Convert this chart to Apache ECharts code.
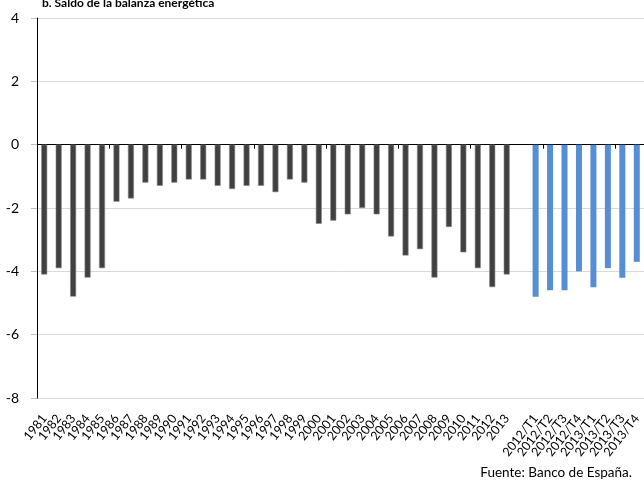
<!DOCTYPE html>
<html>
<head>
<meta charset="utf-8">
<script src="https://cdn.jsdelivr.net/npm/echarts@6/dist/echarts.min.js"></script>
<style>
  html, body { margin: 0; padding: 0; background: #fff; }
  #chart { width: 644px; height: 483px; }
</style>
</head>
<body>
<div id="chart"></div>
<script>
// Annual energy balance (% of GDP), 1981-2013
const years = ['1981','1982','1983','1984','1985','1986','1987','1988','1989','1990',
  '1991','1992','1993','1994','1995','1996','1997','1998','1999','2000',
  '2001','2002','2003','2004','2005','2006','2007','2008','2009','2010',
  '2011','2012','2013'];
const annualValues = [-4.1,-3.9,-4.8,-4.2,-3.9,-1.8,-1.7,-1.2,-1.3,-1.2,
  -1.1,-1.1,-1.3,-1.4,-1.3,-1.3,-1.5,-1.1,-1.2,-2.5,
  -2.4,-2.2,-2.0,-2.2,-2.9,-3.5,-3.3,-4.2,-2.6,-3.4,
  -3.9,-4.5,-4.1];

// Quarterly detail, 2012-2013
const quarters = ['2012/T1','2012/T2','2012/T3','2012/T4','2013/T1','2013/T2','2013/T3','2013/T4'];
const quarterValues = [-4.8,-4.6,-4.6,-4.0,-4.5,-3.9,-4.2,-3.7];

const yTicks = { min: -8, max: 4, step: 2 };

// One empty slot separates the annual and quarterly blocks
const categories = years.concat([''], quarters);
const annualSeries = annualValues.concat(['-'], quarters.map(() => '-'));
const quarterSeries = years.map(() => '-').concat(['-'], quarterValues);

const font = 'Lato, "Open Sans", sans-serif';
const chart = echarts.init(document.getElementById('chart'));
chart.setOption({
  animation: false,
  textStyle: { fontFamily: font },
  title: {
    text: 'b. Saldo de la balanza energética',
    left: 37, top: -8,
    textStyle: { fontSize: 12, fontWeight: 'bold', color: '#000', fontFamily: font }
  },
  graphic: [{
    type: 'text', right: 12, top: 466,
    style: { text: 'Fuente: Banco de España.', fontSize: 13.5, fill: '#000', fontFamily: font }
  }],
  grid: { left: 37, right: -3, top: 18, bottom: 85, containLabel: false },
  xAxis: [{
    type: 'category', data: categories, position: 'bottom',
    axisLine: { show: false, onZero: false },
    axisTick: { show: false },
    axisLabel: { interval: 0, rotate: 52, fontSize: 12.5, color: '#000', margin: 18, fontFamily: font },
    splitLine: { show: false }
  }, {
    type: 'category', data: categories, position: 'top',
    axisLine: { show: true, onZero: true, lineStyle: { color: '#000', width: 1 } },
    axisTick: { show: true, inside: true, length: 4, lineStyle: { color: '#000' } },
    axisLabel: { show: false },
    splitLine: { show: false }
  }],
  yAxis: {
    type: 'value', min: yTicks.min, max: yTicks.max, interval: yTicks.step,
    axisLine: { show: true, lineStyle: { color: '#000' } },
    axisTick: { show: true, length: 6, lineStyle: { color: '#bfbfbf' } },
    axisLabel: { fontSize: 14, color: '#000', margin: 18, fontFamily: font },
    splitLine: { show: true, lineStyle: { color: '#d9d9d9', width: 1 } }
  },
  series: [{
    type: 'bar', data: annualSeries, xAxisIndex: 0, barWidth: 6, barGap: '-100%',
    itemStyle: { color: '#404040', borderColor: '#8a8a8a', borderWidth: 0.6 }
  }, {
    type: 'bar', data: quarterSeries, xAxisIndex: 0, barWidth: 6, barGap: '-100%',
    itemStyle: { color: '#558ed5' }
  }]
});
</script>
</body>
</html>
